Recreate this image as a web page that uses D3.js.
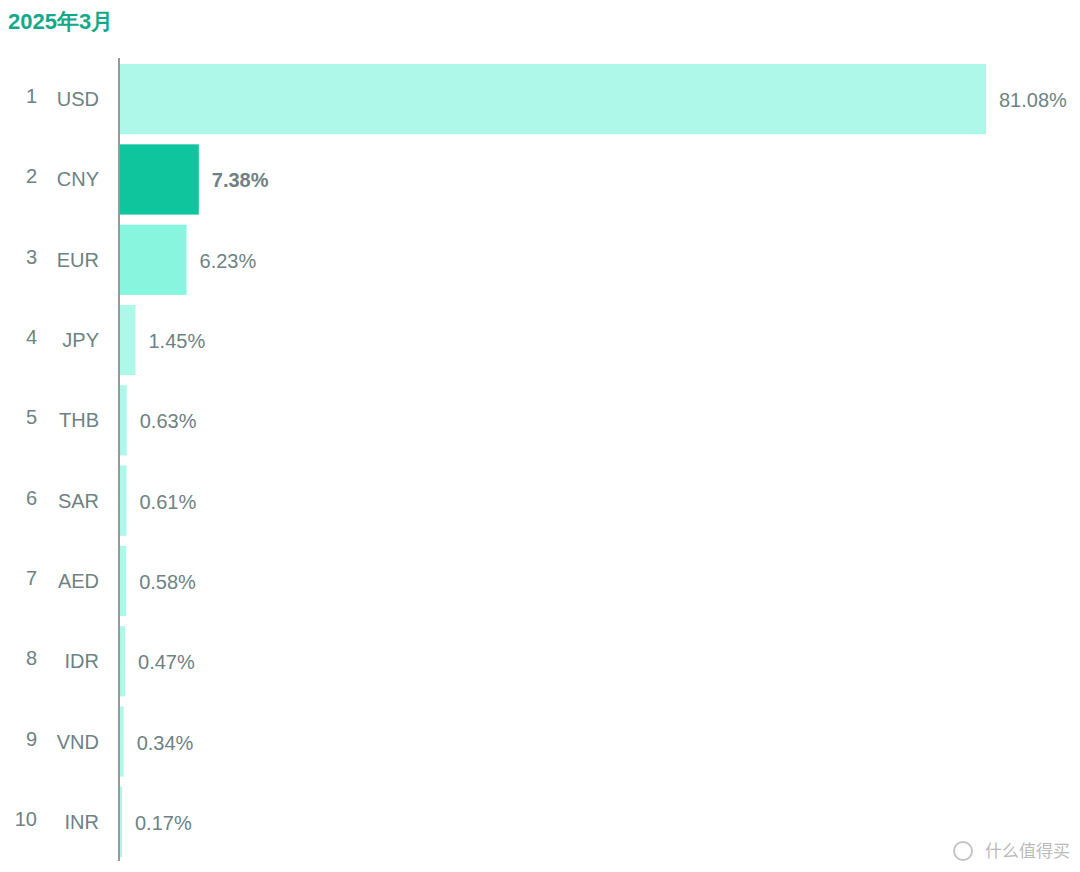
<!DOCTYPE html>
<html><head><meta charset="utf-8">
<script src="https://cdn.jsdelivr.net/npm/d3@7"></script>
<style>body{margin:0;background:#fff}</style>
</head><body>
<svg id="chart" width="1080" height="872"></svg>
<script>
const currencies = ["USD","CNY","EUR","JPY","THB","SAR","AED","IDR","VND","INR"];
const shares = [81.08,7.38,6.23,1.45,0.63,0.61,0.58,0.47,0.34,0.17];
const fills = ["#adf8e9","#0fc59e","#88f6df","#adf8e9","#adf8e9","#adf8e9","#adf8e9","#adf8e9","#adf8e9","#adf8e9"];

const svg = d3.select("#chart");
const textColor = "#6e8283";
const font = "'Liberation Sans', Arial, sans-serif";

const x = d3.scaleLinear().domain([0, 81.08]).range([120, 986]);
const y = d3.scaleBand().domain(currencies).range([59, 862]).paddingInner(0.125).paddingOuter(0.0625);

svg.append("text").attr("x", 8).attr("y", 29)
  .attr("font-family", font).attr("font-size", 22).attr("font-weight", "bold")
  .attr("fill", "#12a98a").text("2025年3月");

const rows = svg.selectAll("g.row").data(currencies).join("g").attr("class", "row");

rows.append("rect")
  .attr("x", x(0))
  .attr("y", d => y(d))
  .attr("height", y.bandwidth())
  .attr("width", (d, i) => Math.max(2, x(shares[i]) - x(0)))
  .attr("fill", (d, i) => fills[i]);

rows.append("text")
  .attr("x", 99).attr("y", d => y(d) + y.bandwidth() / 2 + 7)
  .attr("text-anchor", "end").attr("font-family", font).attr("font-size", 20)
  .attr("fill", textColor).text(d => d);

rows.append("text")
  .attr("x", 37).attr("y", d => y(d) + y.bandwidth() / 2 + 4)
  .attr("text-anchor", "end").attr("font-family", font).attr("font-size", 20)
  .attr("fill", textColor).text((d, i) => i + 1);

rows.append("text")
  .attr("x", (d, i) => Math.max(x(shares[i]), x(0) + 2) + 13)
  .attr("y", d => y(d) + y.bandwidth() / 2 + 8)
  .attr("font-family", font).attr("font-size", 20)
  .attr("font-weight", d => d === "CNY" ? "bold" : "normal")
  .attr("fill", textColor).text((d, i) => shares[i].toFixed(2) + "%");

svg.append("line").attr("x1", 119).attr("x2", 119).attr("y1", 58).attr("y2", 861)
  .attr("stroke", "#777").attr("stroke-width", 1.5);

svg.append("text").attr("x", 1070).attr("y", 857).attr("text-anchor", "end")
  .attr("font-family", "'Noto Sans CJK SC', sans-serif").attr("font-size", 17)
  .attr("fill", "#bbb").text("什么值得买");
svg.append("circle").attr("cx", 963).attr("cy", 851).attr("r", 9)
  .attr("fill", "none").attr("stroke", "#c4c4c4").attr("stroke-width", 2);
</script>
</body></html>
